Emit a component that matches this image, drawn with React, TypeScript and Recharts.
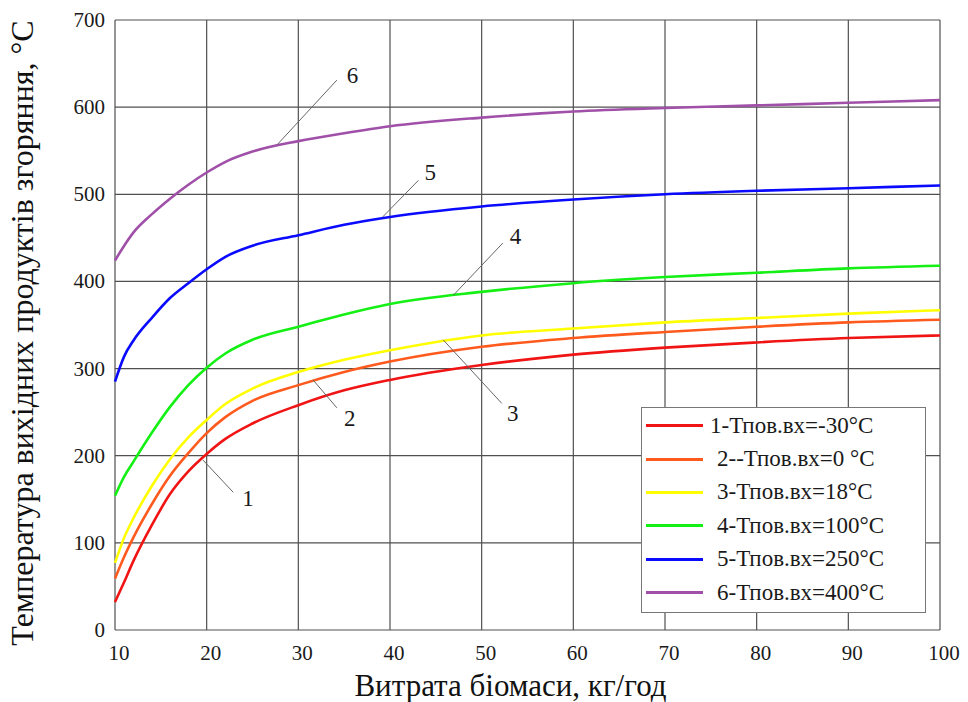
import React from "react";
import {
  LineChart,
  Line,
  XAxis,
  YAxis,
  CartesianGrid,
  Legend,
  ReferenceLine,
  ReferenceDot,
} from "recharts";

// biomass flow, kg/h
const flow = [10, 11, 12, 14, 16, 18, 20, 22, 25, 30, 35, 40, 50, 60, 70, 80, 90, 100];

// outlet temperature of combustion products, °C
const t1 = [32, 55, 79, 120, 156, 182, 202, 219, 237, 258, 275, 287, 304, 316, 324, 330, 335, 338];
const t2 = [59, 84, 106, 144, 177, 203, 226, 244, 263, 281, 296, 308, 325, 335, 342, 348, 353, 356];
const t3 = [77, 106, 128, 165, 196, 221, 241, 259, 277, 296, 310, 321, 338, 346, 353, 358, 363, 367];
const t4 = [154, 176, 193, 226, 256, 281, 301, 317, 333, 348, 362, 374, 388, 398, 405, 410, 415, 418];
const t5 = [285, 314, 332, 358, 381, 398, 414, 428, 441, 453, 465, 474, 486, 494, 500, 504, 507, 510];
const t6 = [424, 441, 456, 477, 495, 511, 525, 537, 549, 561, 570, 578, 588, 595, 599, 602, 605, 608];

const seriesNames = [
  "1-Тпов.вх=-30°C",
  "2--Тпов.вх=0 °C",
  "3-Тпов.вх=18°C",
  "4-Тпов.вх=100°C",
  "5-Тпов.вх=250°C",
  "6-Тпов.вх=400°C",
];
const seriesColors = ["#f01414", "#ff5a1e", "#ffff00", "#14f014", "#0a0aff", "#a050a8"];

const xTicks = [10, 20, 30, 40, 50, 60, 70, 80, 90, 100];
const yTicks = [0, 100, 200, 300, 400, 500, 600, 700];

// curve number callouts: label point and leader line ends (data units)
const callouts = [
  { n: "1", tx: 24.5, ty: 152, x1: 22.9, y1: 158, x2: 19.6, y2: 195 },
  { n: "2", tx: 35.6, ty: 243, x1: 34.2, y1: 255, x2: 31.6, y2: 287 },
  { n: "3", tx: 53.4, ty: 249, x1: 52.2, y1: 260, x2: 45.8, y2: 333 },
  { n: "4", tx: 53.7, ty: 452, x1: 52.3, y1: 444, x2: 46.9, y2: 384 },
  { n: "5", tx: 44.4, ty: 526, x1: 43.1, y1: 516, x2: 39.2, y2: 474 },
  { n: "6", tx: 35.9, ty: 637, x1: 34.2, y1: 631, x2: 27.7, y2: 557 },
];

const series = [t1, t2, t3, t4, t5, t6];
const data = flow.map((x, i) => {
  const row: Record<string, number> = { x };
  series.forEach((s, k) => (row["s" + k] = s[i]));
  return row;
});

const FONT = "Liberation Serif";
const INK = "#1a1a1a";

function XTick({ x, y, payload }: any) {
  return (
    <text x={x + 4} y={y + 15} textAnchor="middle" fontSize={21} fontFamily={FONT} fill={INK}>
      {payload.value}
    </text>
  );
}

function YTick({ x, y, payload }: any) {
  return (
    <text x={x} y={y + 7} textAnchor="end" fontSize={21} fontFamily={FONT} fill={INK}>
      {payload.value}
    </text>
  );
}

function CalloutLabel({ viewBox, value }: any) {
  const cx = viewBox.x + (viewBox.width || 0) / 2;
  const cy = viewBox.y + (viewBox.height || 0) / 2;
  return (
    <text x={cx} y={cy + 8} textAnchor="middle" fontSize={23} fontFamily={FONT} fill={INK}>
      {value}
    </text>
  );
}

function LegendBox({ payload }: any) {
  return (
    <div
      style={{
        background: "#fff",
        border: "1.5px solid #777",
        width: 285,
        height: 206,
        boxSizing: "border-box",
        paddingTop: 1,
      }}
    >
      {(payload || []).map((p: any, i: number) => (
        <div key={i} style={{ display: "flex", alignItems: "center", height: 33.4 }}>
          <div style={{ width: 57, height: 3, background: p.color, marginLeft: 4, marginRight: i === 0 ? 7 : 14 }} />
          <span style={{ fontSize: 23, fontFamily: FONT, color: INK, whiteSpace: "nowrap" }}>{p.value}</span>
        </div>
      ))}
    </div>
  );
}

export default function App() {
  return (
    <div style={{ position: "fixed", left: 0, top: 0, width: 968, height: 702, background: "#fff" }}>
      <LineChart width={968} height={702} data={data} margin={{ top: 20, right: 28, bottom: 42, left: 55 }}>
        <CartesianGrid stroke="#505050" strokeWidth={1.2} horizontal vertical />
        <XAxis
          type="number"
          dataKey="x"
          domain={[10, 100]}
          ticks={xTicks}
          axisLine={false}
          tickLine={false}
          tickSize={6}
          tickMargin={9}
          height={30}
          tick={<XTick />}
          label={{
            value: "Витрата біомаси, кг/год",
            content: ({ viewBox }: any) => (
              <text
                x={viewBox.x + viewBox.width / 2 - 17}
                y={696}
                textAnchor="middle"
                fontSize={31}
                fontFamily={FONT}
                fill="#111"
              >
                Витрата біомаси, кг/год
              </text>
            ),
          }}
        />
        <YAxis
          type="number"
          domain={[0, 700]}
          ticks={yTicks}
          width={60}
          axisLine={false}
          tickLine={false}
          tickSize={6}
          tickMargin={4}
          tick={<YTick />}
          label={{
            value: "Температура вихідних продуктів згоряння, °C",
            content: ({ viewBox }: any) => {
              const cy = viewBox.y + viewBox.height / 2 + 8;
              return (
                <text
                  x={33}
                  y={cy}
                  transform={`rotate(-90 33 ${cy})`}
                  textAnchor="middle"
                  fontSize={32}
                  fontFamily={FONT}
                  fill="#111"
                >
                  Температура вихідних продуктів згоряння, °C
                </text>
              );
            },
          }}
        />
        {series.map((_, k) => (
          <Line
            key={k}
            type="monotone"
            dataKey={"s" + k}
            name={seriesNames[k]}
            stroke={seriesColors[k]}
            strokeWidth={2.6}
            dot={false}
            isAnimationActive={false}
          />
        ))}
        {callouts.map((c) => (
          <ReferenceLine
            key={"l" + c.n}
            segment={[
              { x: c.x1, y: c.y1 },
              { x: c.x2, y: c.y2 },
            ]}
            stroke="#666"
            strokeWidth={1}
          />
        ))}
        {callouts.map((c) => (
          <ReferenceDot
            key={"d" + c.n}
            x={c.tx}
            y={c.ty}
            r={0}
            fill="none"
            stroke="none"
            label={{ value: c.n, content: <CalloutLabel /> }}
          />
        ))}
        <Legend
          layout="horizontal"
          verticalAlign="middle"
          align="center"
          content={<LegendBox />}
          wrapperStyle={{ left: 641, top: 407, width: 285, height: 206 }}
        />
      </LineChart>
    </div>
  );
}
